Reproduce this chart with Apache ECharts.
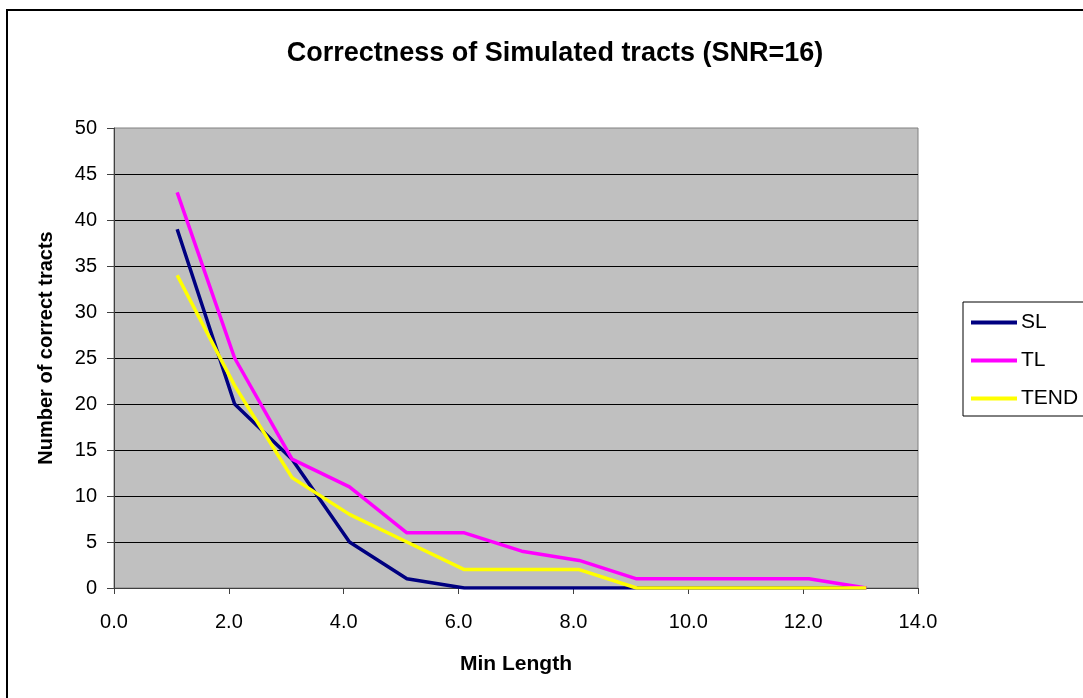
<!DOCTYPE html>
<html>
<head>
<meta charset="utf-8">
<script src="https://cdn.jsdelivr.net/npm/echarts@6/dist/echarts.min.js"></script>
<style>html,body{margin:0;padding:0;background:#fff;}#c{width:1083px;height:698px;}</style>
</head>
<body>
<div id="c"></div>
<script>
const minLength = [1.1, 2.1, 3.1, 4.1, 5.1, 6.1, 7.1, 8.1, 9.1, 10.1, 11.1, 12.1, 13.1];
const SL   = [39, 20, 14, 5, 1, 0, 0, 0, 0, 0, 0, 0, 0];
const TL   = [43, 25, 14, 11, 6, 6, 4, 3, 1, 1, 1, 1, 0];
const TEND = [34, 22, 12, 8, 5, 2, 2, 2, 0, 0, 0, 0, 0];
const seriesNames = ['SL', 'TL', 'TEND'];
const seriesColors = ['#000080', '#FF00FF', '#FFFF00'];

const pairs = ys => minLength.map((x, i) => [x, ys[i]]);
const font = 'Liberation Sans, Arial, sans-serif';

const chart = echarts.init(document.getElementById('c'));
chart.setOption({
  animation: false,
  backgroundColor: '#fff',
  title: {
    text: 'Correctness of Simulated tracts (SNR=16)',
    left: 550, top: 35, textAlign: 'center',
    textStyle: {fontFamily: font, fontWeight: 'bold', fontSize: 27, color: '#000'}
  },
  graphic: [{
    type: 'rect', shape: {x: 7, y: 10, width: 1100, height: 700},
    style: {fill: 'none', stroke: '#000', lineWidth: 2}, z: 100
  }],
  grid: {
    left: 114, top: 128, right: 165, bottom: 110,
    show: true, backgroundColor: '#C0C0C0', borderColor: '#808080', borderWidth: 1
  },
  legend: {
    orient: 'vertical', left: 963, top: 302,
    data: seriesNames,
    icon: 'rect', itemWidth: 46, itemHeight: 4, itemGap: 17,
    borderColor: '#000', borderWidth: 1,
    padding: [10, 30, 7, 8],
    textStyle: {fontFamily: font, fontSize: 21, color: '#000', padding: [0, 0, 0, -1]}
  },
  xAxis: {
    type: 'value', min: 0, max: 14, interval: 2,
    name: 'Min Length', nameLocation: 'middle', nameGap: 66,
    nameTextStyle: {fontFamily: font, fontWeight: 'bold', fontSize: 21, color: '#000'},
    axisLine: {show: true, lineStyle: {color: '#404040', width: 1}},
    axisTick: {show: true, length: 6, lineStyle: {color: '#404040'}},
    axisLabel: {fontFamily: font, fontSize: 20, color: '#000', margin: 24,
      formatter: v => v.toFixed(1)},
    splitLine: {show: false}
  },
  yAxis: {
    type: 'value', min: 0, max: 50, interval: 5,
    name: 'Number of correct tracts', nameLocation: 'middle', nameGap: 58,
    nameTextStyle: {fontFamily: font, fontWeight: 'bold', fontSize: 20, color: '#000',
      padding: [0, 0, 0, 20]},
    axisLine: {show: true, lineStyle: {color: '#404040', width: 1}},
    axisTick: {show: true, length: 7, lineStyle: {color: '#404040'}},
    axisLabel: {fontFamily: font, fontSize: 20, color: '#000', margin: 17},
    splitLine: {show: true, showMaxLine: false, lineStyle: {color: '#000', width: 1}}
  },
  series: [SL, TL, TEND].map((ys, i) => ({
    name: seriesNames[i], type: 'line', data: pairs(ys),
    symbol: 'none', showSymbol: false,
    lineStyle: {color: seriesColors[i], width: 3.5},
    itemStyle: {color: seriesColors[i]}
  }))
});
</script>
</body>
</html>
